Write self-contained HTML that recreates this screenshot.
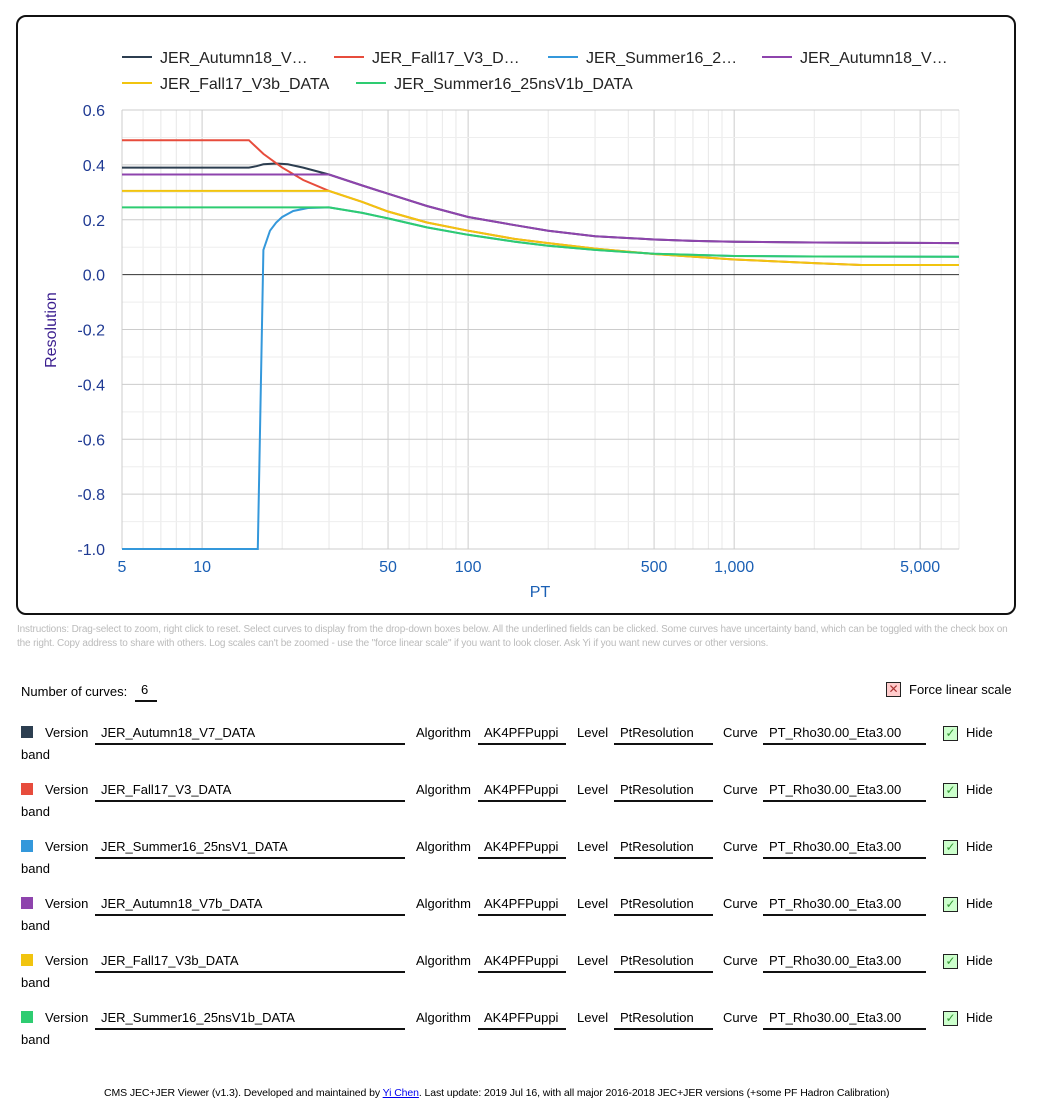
<!DOCTYPE html>
<html><head><meta charset="utf-8">
<style>
body{margin:0;width:1048px;height:1117px;background:#fff;font-family:"Liberation Sans",sans-serif;position:relative;overflow:hidden}
#frame{position:absolute;left:16px;top:15px;width:996px;height:596px;border:2px solid #111;border-radius:10px}
svg text{font-family:"Liberation Sans",sans-serif}
.instr{position:absolute;left:17px;top:623px;width:1000px;font-size:10px;letter-spacing:-0.15px;line-height:14px;color:#bbb}
.fld{position:absolute;border-bottom:2px solid #111;height:22px;font-size:13px;padding-left:6px;padding-top:2px;box-sizing:border-box}
.lbl{position:absolute;font-size:13px}
.sw{position:absolute;width:12px;height:12px}
.cb{position:absolute;width:13px;height:13px;border:1px solid #222;background:#cfc;font-size:12px;line-height:13px;text-align:center;color:#393}
</style></head><body>
<div id="frame"></div>
<svg id="chart" width="1048" height="620" style="position:absolute;left:0;top:0"></svg>
<div class="instr">Instructions: Drag-select to zoom, right click to reset. Select curves to display from the drop-down boxes below. All the underlined fields can be clicked. Some curves have uncertainty band, which can be toggled with the check box on the right. Copy address to share with others. Log scales can't be zoomed - use the "force linear scale" if you want to look closer. Ask Yi if you want new curves or other versions.</div>
<div class="lbl" style="left:21px;top:684px">Number of curves:</div>
<div class="fld" style="left:135px;top:680px;width:22px;padding-left:6px">6</div>
<div class="cb" style="left:886px;top:682px;background:#fcc;color:#a33">✕</div>
<div class="lbl" style="left:909px;top:682px">Force linear scale</div>
<div id="rows"></div>
<div class="lbl" style="left:104px;top:1087px;font-size:10.5px;letter-spacing:-0.1px">CMS JEC+JER Viewer (v1.3). Developed and maintained by <span style="color:#00e;text-decoration:underline">Yi Chen</span>. Last update: 2019 Jul 16, with all major 2016-2018 JEC+JER versions (+some PF Hadron Calibration)</div>
<script>
const seriesNames=["JER_Autumn18_V7_DATA","JER_Fall17_V3_DATA","JER_Summer16_25nsV1_DATA","JER_Autumn18_V7b_DATA","JER_Fall17_V3b_DATA","JER_Summer16_25nsV1b_DATA"];
const legendLabels=["JER_Autumn18_V…","JER_Fall17_V3_D…","JER_Summer16_2…","JER_Autumn18_V…","JER_Fall17_V3b_DATA","JER_Summer16_25nsV1b_DATA"];
const colors=["#2c3e50","#e74c3c","#3498db","#8e44ad","#f1c40f","#2ecc71"];
const xTicks=[5,10,50,100,500,1000,5000];
const xTickLabels=["5","10","50","100","500","1,000","5,000"];
const yTicks=[0.6,0.4,0.2,0,-0.2,-0.4,-0.6,-0.8,-1.0];
const ptAutumn=[5,15,16,17,19,21,24,30,40,50,70,100,150,200,300,500,700,1000,2000,7000];
const resAutumn=[0.39,0.39,0.395,0.402,0.405,0.402,0.39,0.365,0.325,0.295,0.25,0.21,0.18,0.16,0.14,0.128,0.123,0.12,0.117,0.115];
const ptFall=[5,15,17,20,24,30,40,50,70,100,150,200,300,500,1000,2000,3000,7000];
const resFall=[0.49,0.49,0.44,0.39,0.345,0.305,0.265,0.23,0.19,0.16,0.13,0.115,0.095,0.075,0.055,0.042,0.035,0.035];
const ptSummer=[5,16,16.2,17,18,19,20,22,25,30,40,50,70,100,150,200,300,500,1000,2000,7000];
const resSummer=[-1,-1,-1,0.09,0.16,0.19,0.21,0.232,0.243,0.245,0.225,0.205,0.172,0.145,0.12,0.105,0.09,0.076,0.068,0.066,0.065];
const ptAutumnB=[5,30,40,50,70,100,150,200,300,500,700,1000,2000,7000];
const resAutumnB=[0.365,0.365,0.325,0.295,0.25,0.21,0.18,0.16,0.14,0.128,0.123,0.12,0.117,0.115];
const ptFallB=[5,30,40,50,70,100,150,200,300,500,1000,2000,3000,7000];
const resFallB=[0.305,0.305,0.265,0.23,0.19,0.16,0.13,0.115,0.095,0.075,0.055,0.042,0.035,0.035];
const ptSummerB=[5,30,40,50,70,100,150,200,300,500,1000,2000,7000];
const resSummerB=[0.245,0.245,0.225,0.205,0.172,0.145,0.12,0.105,0.09,0.076,0.068,0.066,0.065];
const seriesX=[ptAutumn,ptFall,ptSummer,ptAutumnB,ptFallB,ptSummerB];
const seriesY=[resAutumn,resFall,resSummer,resAutumnB,resFallB,resSummerB];

const X0=122,X1=959,Y0=110,Y1=549,xmin=5,xmax=7000,ymin=-1,ymax=0.6;
const sx=v=>X0+(Math.log10(v)-Math.log10(xmin))/(Math.log10(xmax)-Math.log10(xmin))*(X1-X0);
const sy=v=>Y1-(v-ymin)/(ymax-ymin)*(Y1-Y0);
const svg=document.getElementById('chart');const NS="http://www.w3.org/2000/svg";
function mk(t,a,p){const e=document.createElementNS(NS,t);for(const k in a)e.setAttribute(k,a[k]);(p||svg).appendChild(e);return e;}
for(let d=1;d<=1000;d*=10){for(let m=1;m<10;m++){const v=m*d;if(v<xmin||v>xmax)continue;
 const major=xTicks.includes(v);
 const l=mk('line',{x1:sx(v),x2:sx(v),y1:Y0,y2:Y1,stroke:major?'#ccc':'#e8e8e8','stroke-width':1});
 }}
mk('line',{x1:X1,x2:X1,y1:Y0,y2:Y1,stroke:'#e8e8e8'});
for(let k=-10;k<=6;k++){const vv=k/10;const major=Math.abs(k)%2===0;
 const l=mk('line',{x1:X0,x2:X1,y1:sy(vv),y2:sy(vv),stroke:k===0?'#333':(major?'#ccc':'#eeeeee'),'stroke-width':1});
 }
mk('line',{x1:X0,x2:X0,y1:Y0,y2:Y1,stroke:'#ccc'});
yTicks.forEach(v=>{const t=mk('text',{x:105,y:sy(v)+6,'text-anchor':'end','font-size':16,fill:'#1f3a93'});t.textContent=v.toFixed(1);
 });
xTicks.forEach((v,i)=>{const t=mk('text',{x:sx(v),y:572,'text-anchor':'middle','font-size':16,fill:'#1a5fb4'});t.textContent=xTickLabels[i];
 });
const xt=mk('text',{x:540,y:597,'text-anchor':'middle','font-size':16,fill:'#1a5fb4'});xt.textContent='PT';

const yt=mk('text',{x:56,y:330,'text-anchor':'middle','font-size':16,fill:'#3b1f8f',transform:'rotate(-90 56 330)'});yt.textContent='Resolution';

[0,1,2,3,4,5].forEach(i=>{const d=seriesX[i].map((x,j)=>(j?'L':'M')+sx(x).toFixed(1)+','+sy(seriesY[i][j]).toFixed(1)).join('');
 const p=mk('path',{d:d,fill:'none',stroke:colors[i],'stroke-width':2});
 });
const legPos=[[122,57],[334,57],[548,57],[762,57],[122,83],[356,83]];
legendLabels.forEach((n,i)=>{const g=mk('g',{});
 
 const [x,y]=legPos[i];mk('line',{x1:x,x2:x+30,y1:y,y2:y,stroke:colors[i],'stroke-width':2},g);
 const t=mk('text',{x:x+38,y:y+6,'font-size':16,fill:'#222'},g);t.textContent=n;});
const rows=document.getElementById('rows');
seriesNames.forEach((n,i)=>{const y=725+i*57;
 const h=`<div class="sw" style="left:21px;top:${y+1}px;background:${colors[i]}"></div>
<div class="lbl" style="left:45px;top:${y}px">Version</div>
<div class="fld" style="left:95px;top:${y-2}px;width:310px">${n}</div>
<div class="lbl" style="left:416px;top:${y}px">Algorithm</div>
<div class="fld" style="left:478px;top:${y-2}px;width:88px">AK4PFPuppi</div>
<div class="lbl" style="left:577px;top:${y}px">Level</div>
<div class="fld" style="left:614px;top:${y-2}px;width:99px">PtResolution</div>
<div class="lbl" style="left:723px;top:${y}px">Curve</div>
<div class="fld" style="left:763px;top:${y-2}px;width:163px">PT_Rho30.00_Eta3.00</div>
<div class="cb" style="left:943px;top:${y+1}px">✓</div>
<div class="lbl" style="left:966px;top:${y}px">Hide</div>
<div class="lbl" style="left:21px;top:${y+22}px">band</div>`;
 rows.insertAdjacentHTML('beforeend',h);});
</script>
</body></html>
